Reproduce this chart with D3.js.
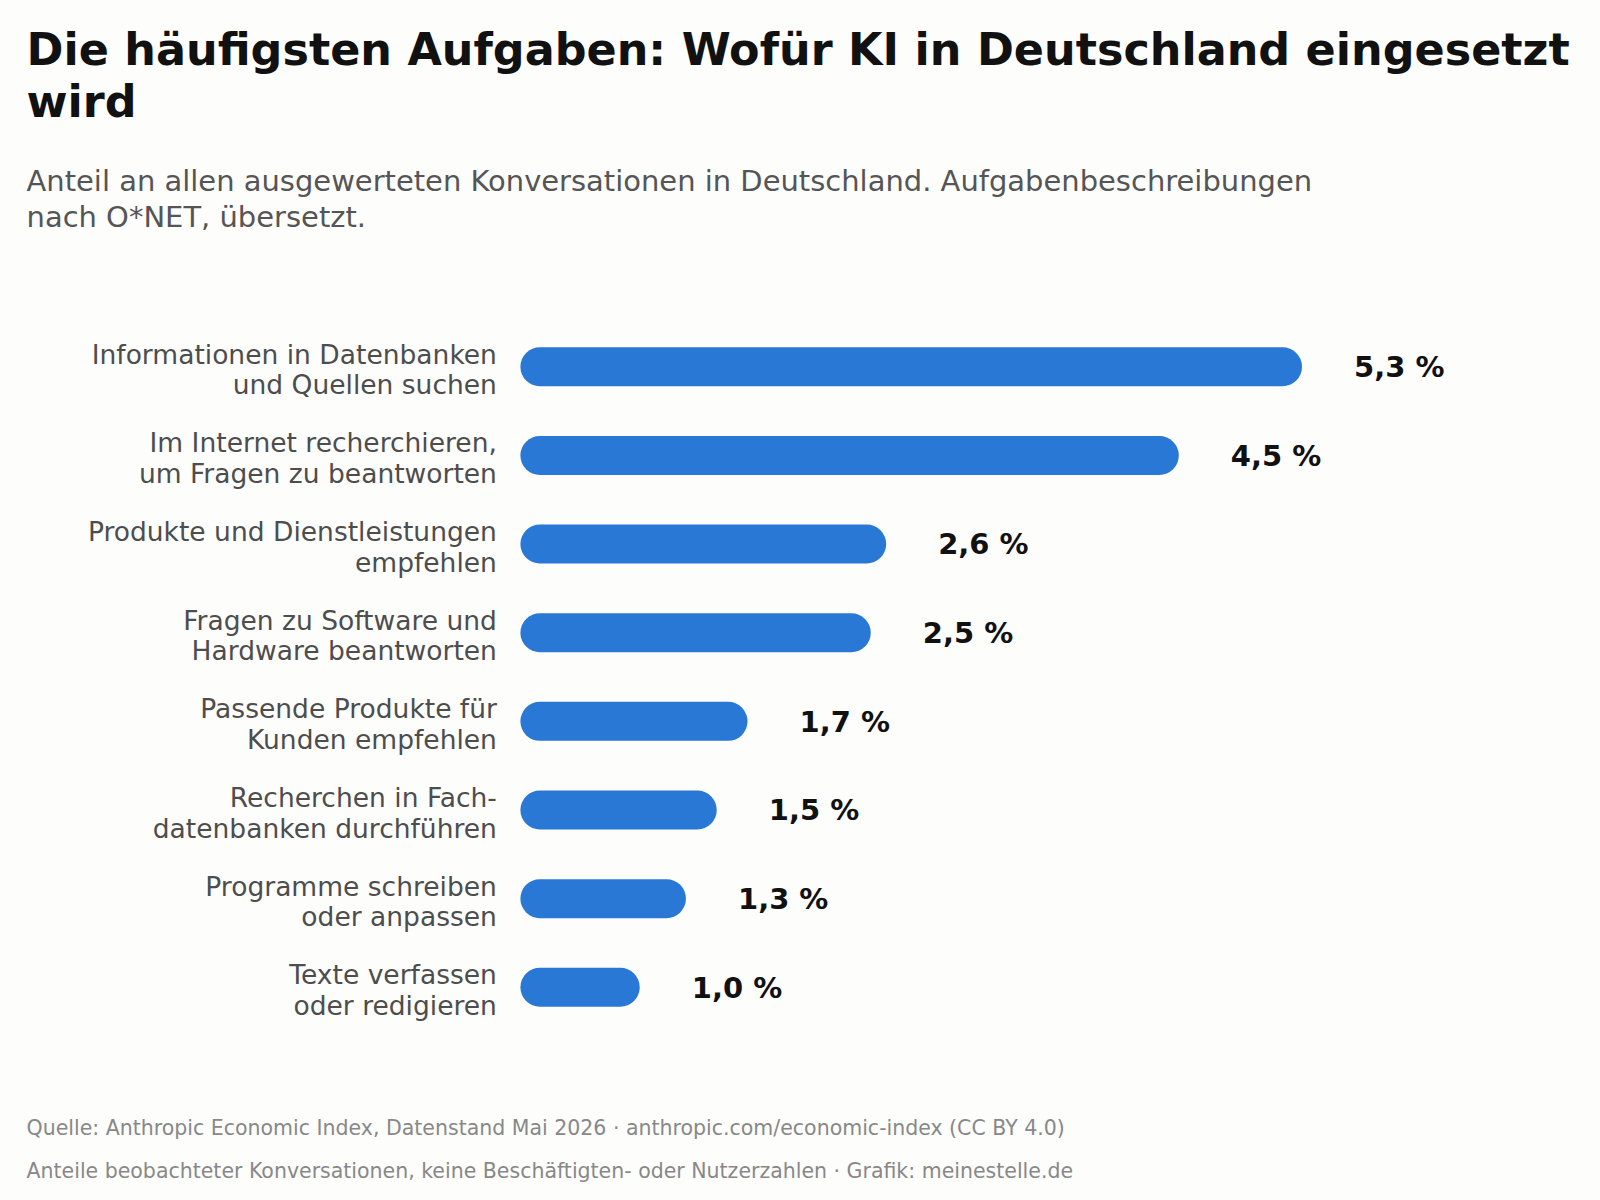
<!DOCTYPE html>
<html><head><meta charset="utf-8">
<script src="https://cdn.jsdelivr.net/npm/d3@7"></script>
<style>body{margin:0;background:#fdfdfc;font-family:"DejaVu Sans",sans-serif}</style>
</head><body><svg id="c" width="1600" height="1200"></svg>
<script>
const categories = [
  ["Informationen in Datenbanken","und Quellen suchen"],
  ["Im Internet recherchieren,","um Fragen zu beantworten"],
  ["Produkte und Dienstleistungen","empfehlen"],
  ["Fragen zu Software und","Hardware beantworten"],
  ["Passende Produkte für","Kunden empfehlen"],
  ["Recherchen in Fach-","datenbanken durchführen"],
  ["Programme schreiben","oder anpassen"],
  ["Texte verfassen","oder redigieren"]
];
const values = [5.3, 4.5, 2.6, 2.5, 1.7, 1.5, 1.3, 1.0];
const valueLabels = ["5,3 %","4,5 %","2,6 %","2,5 %","1,7 %","1,5 %","1,3 %","1,0 %"];

const root = d3.select("#c");
root.append("rect").attr("width",1600).attr("height",1200).attr("fill","#fdfdfc");
const svg = root.append("g").attr("transform","scale(1.0204)");
const t = svg.append("text").attr("x",26).attr("font-weight","bold").attr("font-size",43.6).attr("fill","#111");
t.append("tspan").attr("x",26).attr("y",64).text("Die häufigsten Aufgaben: Wofür KI in Deutschland eingesetzt");
t.append("tspan").attr("x",26).attr("y",115).text("wird");
const s = svg.append("text").attr("font-size",28.4).attr("fill","#555");
s.append("tspan").attr("x",26).attr("y",187).text("Anteil an allen ausgewerteten Konversationen in Deutschland. Aufgabenbeschreibungen");
s.append("tspan").attr("x",26).attr("y",222).text("nach O*NET, übersetzt.");

const x = d3.scaleLinear().domain([0,5.3]).range([476,1276]);
const y = d3.scaleBand().domain(d3.range(values.length)).range([316,1011]).paddingInner(0.56).paddingOuter(0.28);
const g = svg.append("g");
values.forEach((v,i)=>{
  const cy = y(i)+y.bandwidth()/2;
  g.append("rect").attr("x",510).attr("y",y(i)).attr("width",x(v)-510).attr("height",y.bandwidth())
    .attr("rx",y.bandwidth()/2).attr("fill","#2a78d6");
  g.append("text").attr("x",x(v)+51).attr("y",cy+10).attr("font-size",28.4).attr("font-weight","bold").attr("fill","#111").text(valueLabels[i]);
  const lt = g.append("text").attr("text-anchor","end").attr("font-size",26).attr("fill","#4d4d4d");
  lt.append("tspan").attr("x",487).attr("y",cy-3).text(categories[i][0]);
  lt.append("tspan").attr("x",487).attr("y",cy+27).text(categories[i][1]);
});
svg.append("text").attr("x",26).attr("y",1112).attr("font-size",20.1).attr("fill","#888")
  .text("Quelle: Anthropic Economic Index, Datenstand Mai 2026 · anthropic.com/economic-index (CC BY 4.0)");
svg.append("text").attr("x",26).attr("y",1154).attr("font-size",20.1).attr("fill","#888")
  .text("Anteile beobachteter Konversationen, keine Beschäftigten- oder Nutzerzahlen · Grafik: meinestelle.de");
</script></body></html>
